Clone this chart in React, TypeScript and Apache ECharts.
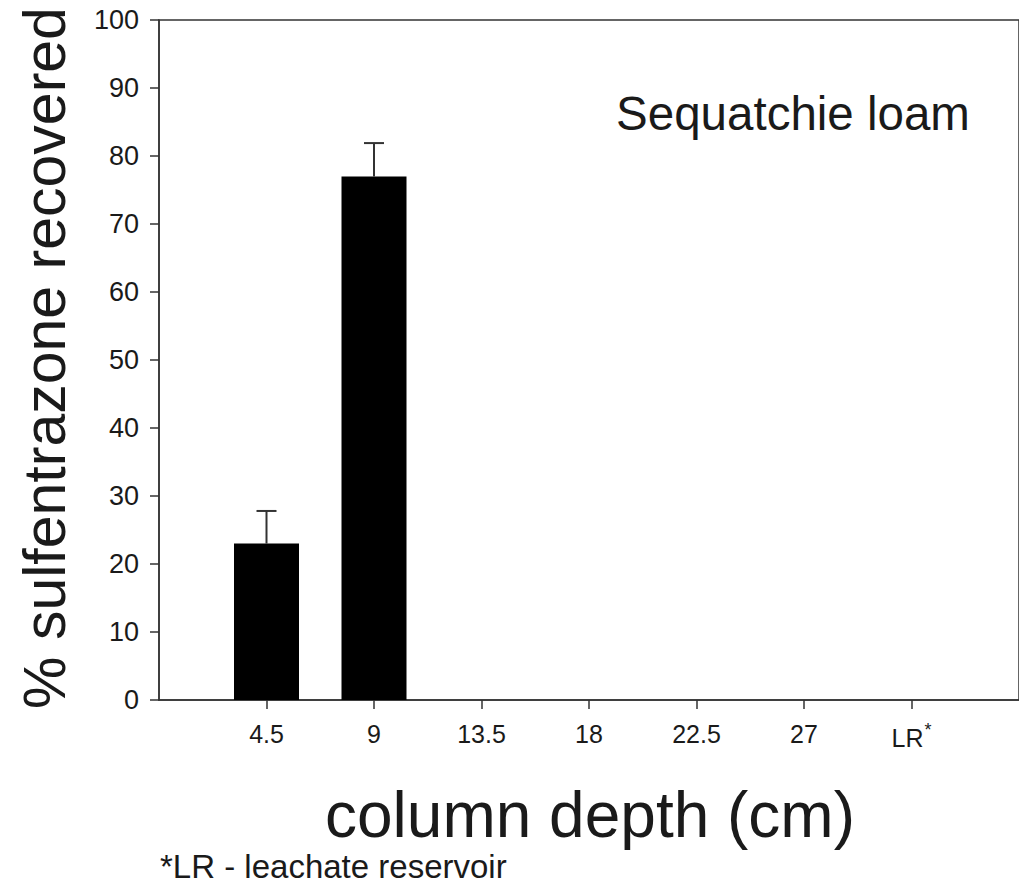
import React, { useEffect, useRef } from "react";
import * as echarts from "echarts";

const categories = ["4.5", "9", "13.5", "18", "22.5", "27", "LR*"];
const recovered = [23, 77, 0, 0, 0, 0, 0];
const errorUp = [4.8, 4.9, 0, 0, 0, 0, 0];
const yTicks = [0, 10, 20, 30, 40, 50, 60, 70, 80, 90, 100];

const FONT = "Liberation Sans, Arial, sans-serif";

export default function App() {
  const ref = useRef<HTMLDivElement>(null);
  useEffect(() => {
    if (!ref.current) return;
    const chart = echarts.init(ref.current, null, { renderer: "svg" });
    const positions = categories.map((_, i) => i + 1);
    const barData = recovered.map((v, i) => [positions[i], v]);
    const errData = recovered
      .map((v, i) => [positions[i], v, v + errorUp[i]])
      .filter((d, i) => errorUp[i] > 0);
    chart.setOption({
      animation: false,
      backgroundColor: "#fff",
      grid: {
        left: 159,
        top: 20,
        width: 862,
        height: 680,
        show: true,
        borderColor: "#333",
        borderWidth: 1.5,
      },
      xAxis: {
        type: "value",
        min: 0,
        max: 8,
        interval: 1,
        splitLine: { show: false },
        axisLine: { show: true, onZero: false, lineStyle: { color: "#333", width: 1.5 } },
        axisTick: {
          show: true,
          customValues: positions,
          length: 9,
          lineStyle: { color: "#333", width: 1.5 },
        },
        axisLabel: {
          customValues: positions,
          margin: 21,
          fontFamily: FONT,
          fontSize: 25,
          color: "#1a1a1a",
          formatter: (v: number) => {
            const c = categories[Math.round(v) - 1] || "";
            if (c.endsWith("*")) return "{base|" + c.slice(0, -1) + "}{sup|*}";
            return "{base|" + c + "}";
          },
          rich: {
            base: { fontSize: 25, fontFamily: FONT, color: "#1a1a1a" },
            sup: { fontSize: 18, fontFamily: FONT, color: "#1a1a1a", verticalAlign: "top", padding: [0, 0, 15, 1] },
          },
        },
      },
      yAxis: {
        type: "value",
        min: 0,
        max: 100,
        interval: 10,
        splitLine: { show: false },
        axisLine: { show: true, lineStyle: { color: "#333", width: 1.5 } },
        axisTick: { show: true, length: 9, lineStyle: { color: "#333", width: 1.5 } },
        axisLabel: {
          margin: 20,
          fontFamily: FONT,
          fontSize: 27,
          color: "#1a1a1a",
          formatter: (v: number) => (yTicks.includes(v) ? String(v) : ""),
        },
      },
      series: [
        {
          type: "bar",
          data: barData,
          barWidth: 65,
          itemStyle: { color: "#000", borderColor: "#111", borderWidth: 0 },
        },
        {
          type: "custom",
          data: errData,
          z: 5,
          renderItem: (params: any, api: any) => {
            const x = api.value(0);
            const top = api.coord([x, api.value(2)]);
            const base = api.coord([x, api.value(1)]);
            const half = 10;
            return {
              type: "group",
              children: [
                {
                  type: "line",
                  shape: { x1: top[0], y1: top[1], x2: base[0], y2: base[1] },
                  style: { stroke: "#333", lineWidth: 2 },
                },
                {
                  type: "line",
                  shape: { x1: top[0] - half, y1: top[1], x2: top[0] + half, y2: top[1] },
                  style: { stroke: "#333", lineWidth: 2 },
                },
              ],
            };
          },
        },
      ],
      graphic: [
        {
          type: "text",
          x: 793,
          y: 113,
          style: {
            text: "Sequatchie loam",
            fontFamily: FONT,
            fontSize: 47.5,
            fill: "#1a1a1a",
            align: "center",
            verticalAlign: "middle",
          },
        },
        {
          type: "text",
          x: 45,
          y: 358,
          rotation: Math.PI / 2,
          style: {
            text: "% sulfentrazone recovered",
            fontFamily: FONT,
            fontSize: 59,
            fill: "#1a1a1a",
            align: "center",
            verticalAlign: "middle",
          },
        },
        {
          type: "text",
          x: 590,
          y: 815,
          style: {
            text: "column depth (cm)",
            fontFamily: FONT,
            fontSize: 64,
            fill: "#1a1a1a",
            align: "center",
            verticalAlign: "middle",
          },
        },
        {
          type: "text",
          x: 160,
          y: 866,
          style: {
            text: "*LR - leachate reservoir",
            fontFamily: FONT,
            fontSize: 33,
            fill: "#1a1a1a",
            align: "left",
            verticalAlign: "middle",
          },
        },
      ],
    });
    return () => chart.dispose();
  }, []);
  return (
    <div
      ref={ref}
      style={{ position: "fixed", left: 0, top: 0, width: 1019, height: 889, background: "#fff" }}
    />
  );
}
